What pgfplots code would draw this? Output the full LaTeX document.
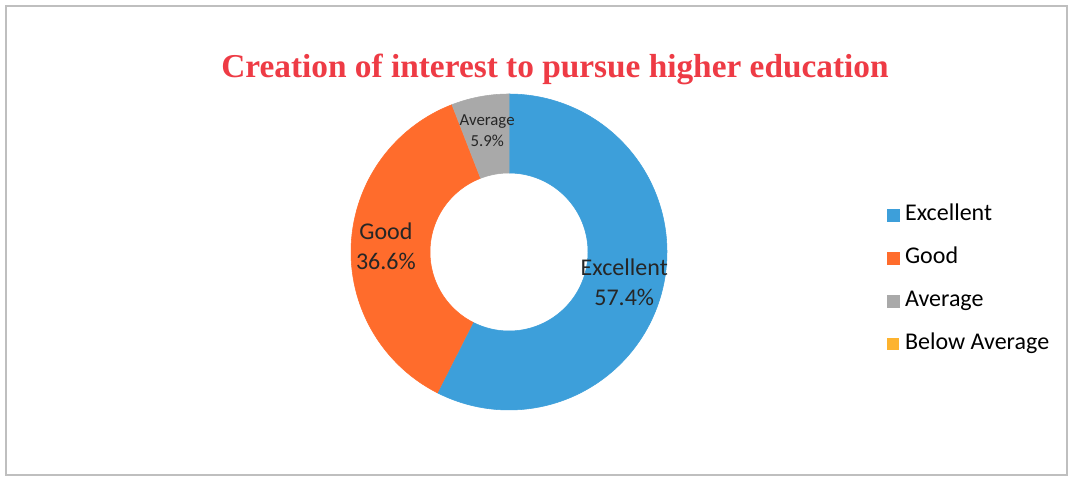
\documentclass[border=0pt]{standalone}
\usepackage{pgfplots}
\pgfplotsset{compat=1.18}
\usepackage{pgfplotstable}
\usepackage{fontspec}
\setmainfont{Carlito}
\newfontfamily\titlefont{Liberation Serif}

\definecolor{cExc}{HTML}{3D9FDA}
\definecolor{cGood}{HTML}{FF6C2C}
\definecolor{cAvg}{HTML}{A9A9A9}
\definecolor{cBelow}{HTML}{FDB32F}
\definecolor{cTitle}{HTML}{EE3B45}

% share of each answer, in percent
\pgfplotstableread{
label value
Excellent 57.4
Good 36.6
Average 5.9
Below 0
}\donut

% one ring segment, from angle #1 to angle #2 (degrees), colour #3
% t in [0,1]: outer edge from #1 to #2; t in (1,2]: inner edge back to #1
\newcommand\slice[3]{%
  \addplot[fill=#3, draw=#3, line width=0.4pt, domain=0:2, samples=241, variable=\t]
    ({(\t<=1.004 ? 1 : 0.5)*cos(\t<=1.004 ? (#1)+((#2)-(#1))*\t : (#2)+((#1)-(#2))*max(0,(\t-1-1/120)*120/119))},
     {(\t<=1.004 ? 1 : 0.5)*sin(\t<=1.004 ? (#1)+((#2)-(#1))*\t : (#2)+((#1)-(#2))*max(0,(\t-1-1/120)*120/119))});
}

\begin{document}
\begin{tikzpicture}
  \pgfplotstablegetelem{0}{value}\of\donut \let\vA\pgfplotsretval
  \pgfplotstablegetelem{1}{value}\of\donut \let\vB\pgfplotsretval
  \pgfplotstablegetelem{2}{value}\of\donut \let\vC\pgfplotsretval
  \pgfplotstablegetelem{3}{value}\of\donut \let\vD\pgfplotsretval
  \pgfmathsetmacro\tot{\vA+\vB+\vC+\vD}
  \pgfmathsetmacro\aA{90}
  \pgfmathsetmacro\aB{90-\vA/\tot*360}
  \pgfmathsetmacro\aC{90-(\vA+\vB)/\tot*360}
  \pgfmathsetmacro\aD{90-(\vA+\vB+\vC)/\tot*360}
  \pgfmathsetmacro\mA{(\aA+\aB)/2}
  \pgfmathsetmacro\mB{(\aB+\aC)/2}
  \pgfmathsetmacro\mC{(\aC+\aD)/2}

  \path[use as bounding box, fill=white] (0,0) rectangle (802.5pt,360.75pt);
  \draw[gray!50, line width=0.8pt] (4.5pt,4.5pt) rectangle (800.25pt,356.25pt);

  \node[anchor=base, text=cTitle, font=\titlefont\bfseries\fontsize{25}{30}\selectfont]
    at (416.25pt,302.25pt) {Creation of interest to pursue higher education};

  \begin{axis}[
      at={(381.75pt,171.75pt)}, anchor=center,
      width=237pt, height=237pt, scale only axis,
      xmin=-1, xmax=1, ymin=-1, ymax=1,
      hide axis, clip=false,
      legend image code/.code={\fill[#1] (0pt,-4.5pt) rectangle (9pt,4.5pt);},
      legend cell align=left,
      legend style={at={(1.696,0.413)}, anchor=west, draw=none, fill=none,
        inner sep=0pt, row sep=15.25pt,
        font=\fontsize{18}{22}\selectfont,
        nodes={inner sep=0pt, text height=13pt, text depth=4pt},
        /tikz/every odd column/.append style={column sep=4pt}},
    ]
    \slice{\aA}{\aB}{cExc}
    \addlegendentry{Excellent}
    \slice{\aB}{\aC}{cGood}
    \addlegendentry{Good}
    \slice{\aC}{\aD}{cAvg}
    \addlegendentry{Average}
    \addlegendimage{fill=cBelow, draw=none}
    \addlegendentry{Below Average}

    \node[align=center, text=black!85, font=\fontsize{18}{22.5}\selectfont]
      at (axis cs:{0.75*cos(\mA)},{0.75*sin(\mA)-0.02}) {Excellent\\57.4\%};
    \node[align=center, text=black!85, font=\fontsize{18}{22.5}\selectfont]
      at (axis cs:{0.78*cos(\mB)},{0.78*sin(\mB)}) {Good\\36.6\%};
    \node[align=center, text=black!85, font=\fontsize{12.6}{15.75}\selectfont]
      at (axis cs:{0.75*cos(\mC)},{0.75*sin(\mC)+0.03}) {Average\\5.9\%};
  \end{axis}
\end{tikzpicture}
\end{document}
